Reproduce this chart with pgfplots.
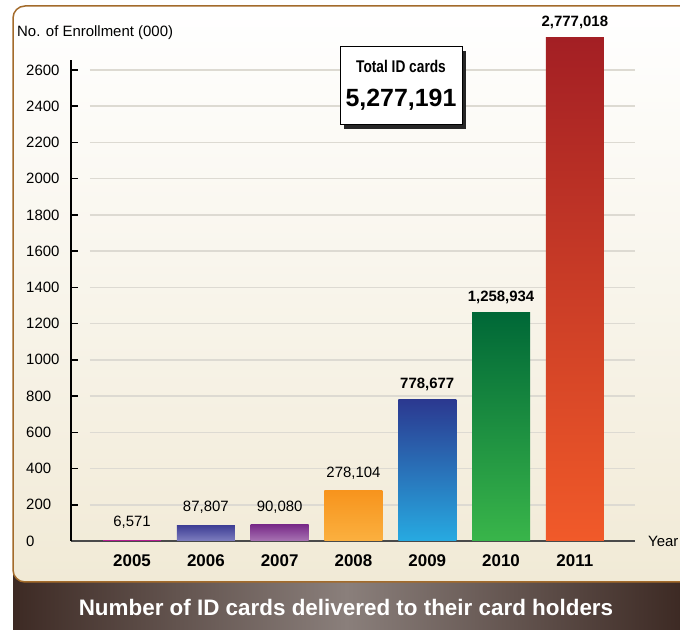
\documentclass[border=0pt]{standalone}
\usepackage{pgfplots}
\pgfplotsset{compat=1.18}
\usepackage{fontspec}
\setmainfont{Liberation Sans}
\definecolor{panelborder}{HTML}{A36B2B}
\definecolor{cream}{HTML}{F1EAD6}
\definecolor{darkbrown}{HTML}{3D2A24}
\definecolor{midbrown}{HTML}{8A7F7B}
\definecolor{gridc}{HTML}{DDDAD2}
\definecolor{axisgray}{HTML}{4A4A4A}
\definecolor{cAt}{HTML}{B0178C}\definecolor{cAb}{HTML}{C43A9E}
\definecolor{cBt}{HTML}{3D3D94}\definecolor{cBb}{HTML}{7E7EBF}
\definecolor{cCt}{HTML}{782A88}\definecolor{cCb}{HTML}{A873B3}
\definecolor{cDt}{HTML}{F7941D}\definecolor{cDb}{HTML}{FBB03F}
\definecolor{cEt}{HTML}{2B3990}\definecolor{cEb}{HTML}{27AAE1}
\definecolor{cFt}{HTML}{006837}\definecolor{cFb}{HTML}{39B54A}
\definecolor{cGt}{HTML}{A31F24}\definecolor{cGb}{HTML}{F15A29}
\begin{document}
\begin{tikzpicture}
\begin{scope}[x=1bp,y=1bp]
\useasboundingbox (0,0) rectangle (680,630);
\fill[white] (0,0) rectangle (680,630);
% dark title bar
\shade[left color=darkbrown, right color=darkbrown, middle color=midbrown] (13,0) rectangle (680,60);
% cream panel
\path[rounded corners=12bp, draw=panelborder, line width=1.5bp, top color=white, bottom color=cream] (13,48) rectangle (720,624);
\node[text=white, font=\bfseries\fontsize{22.5}{26}\selectfont] at (346,23) {Number of ID cards delivered to their card holders};
\node[anchor=west, inner sep=0pt, font=\fontsize{15}{17}\selectfont] at (17,597) {No. of Enrollment (000)};
\end{scope}
\begin{axis}[
  at={(71bp,89bp)}, anchor=south west,
  scale only axis, width=564bp, height=481bp,
  xmin=-0.827, xmax=6.815, ymin=0, ymax=2655,
  clip=false,
  axis x line=bottom, axis y line=left,
  axis line style={-},
  x axis line style={draw=axisgray, line width=1.5bp},
  y axis line style={draw=black, line width=2bp},
  xtick={0,1,2,3,4,5,6},
  xticklabels={2005,2006,2007,2008,2009,2010,2011},
  x tick style={draw=none},
  xticklabel style={font=\bfseries\fontsize{17}{20}\selectfont, yshift=-10bp},
  ytick={0,200,400,600,800,1000,1200,1400,1600,1800,2000,2200,2400,2600},
  y tick style={draw=black, line width=1.5bp},
  tick align=inside, major tick length=7bp,
  yticklabel style={font=\fontsize{15}{17}\selectfont, anchor=west, inner sep=0pt, xshift=-45bp},
  /pgf/number format/assume math mode=true,
  /pgf/number format/1000 sep={},
]
\pgfplotsinvokeforeach{200,400,600,800,1000,1200,1400,1600,1800,2000,2200,2400,2600}{
  \draw[gridc, line width=1.5bp] (axis cs:-0.57,#1) -- (axis cs:6.815,#1);
}
\addplot[ybar, bar width=58bp, bar shift=0pt, draw=none, top color=cAt, bottom color=cAb] coordinates {(0,6.571)};
\addplot[ybar, bar width=58bp, bar shift=0pt, draw=none, top color=cBt, bottom color=cBb] coordinates {(1,87.807)};
\addplot[ybar, bar width=58bp, bar shift=0pt, draw=none, top color=cCt, bottom color=cCb] coordinates {(2,90.080)};
\addplot[ybar, bar width=58bp, bar shift=0pt, draw=none, top color=cDt, bottom color=cDb] coordinates {(3,278.104)};
\addplot[ybar, bar width=58bp, bar shift=0pt, draw=none, top color=cEt, bottom color=cEb] coordinates {(4,778.677)};
\addplot[ybar, bar width=58bp, bar shift=0pt, draw=none, top color=cFt, bottom color=cFb] coordinates {(5,1258.934)};
\addplot[ybar, bar width=58bp, bar shift=0pt, draw=none, top color=cGt, bottom color=cGb] coordinates {(6,2777.018)};
% value labels
\addplot[only marks, mark=none, point meta=explicit symbolic, nodes near coords,
  every node near coord/.style={anchor=south, inner sep=0pt, yshift=11bp, text=black, font=\fontsize{15}{17}\selectfont}]
  coordinates {(0,6.571) [6,571] (1,87.807) [87,807] (2,90.080) [90,080] (3,278.104) [278,104]};
\addplot[only marks, mark=none, point meta=explicit symbolic, nodes near coords,
  every node near coord/.style={anchor=south, inner sep=0pt, yshift=9bp, text=black, font=\bfseries\fontsize{15}{17}\selectfont}]
  coordinates {(4,778.677) [778,677] (5,1258.934) [1,258,934] (6,2777.018) [2,777,018]};
\node[anchor=west, inner sep=0pt, font=\fontsize{15}{17}\selectfont] at (rel axis cs:1,0) [xshift=13bp] {Year};
\end{axis}
\begin{scope}[x=1bp,y=1bp]
% total box
\fill[black!85] (344,501) rectangle (466,579);
\draw[black, line width=1bp, fill=white] (340,505) rectangle (462,583);
\node[font=\bfseries\fontsize{17}{20}\selectfont] at (401,564) {\scalebox{0.81}[1]{Total ID cards}};
\node[font=\bfseries\fontsize{25}{28}\selectfont] at (401,530) {5,277,191};
\end{scope}
\end{tikzpicture}
\end{document}
